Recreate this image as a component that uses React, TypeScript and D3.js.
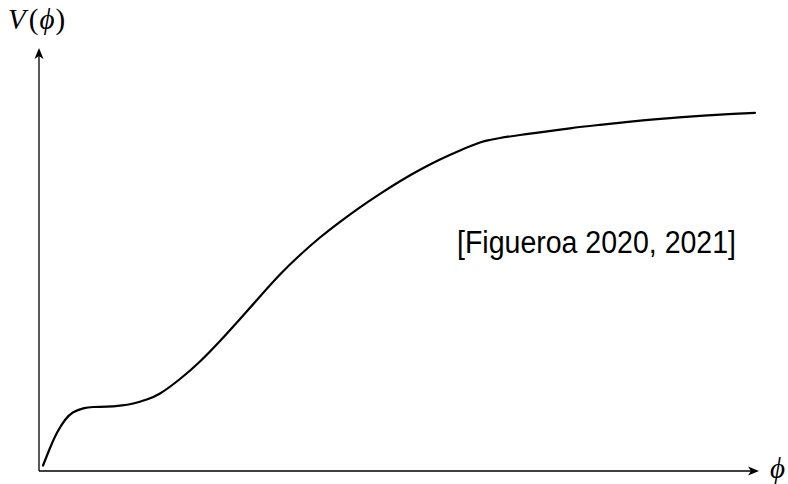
import React from "react";
import * as d3 from "d3";

// Potential V(phi) sampled along the field axis (arbitrary units)
const phiValues = [
  0.056, 0.153, 0.246, 0.361, 0.476, 0.615, 0.754, 0.94, 1.125, 1.31,
  1.496, 1.681, 1.958, 2.236, 2.514, 2.792, 3.069, 3.347, 3.625, 3.903,
  4.181, 4.458, 4.736, 5.014, 5.292, 5.569, 5.847, 6.125, 6.264, 6.403,
  6.681, 6.958, 7.375, 7.792, 8.25, 8.722, 9.181, 9.639, 9.944,
];
const potentialValues = [
  0.13, 0.544, 0.891, 1.206, 1.388, 1.482, 1.513, 1.52, 1.544, 1.596,
  1.69, 1.832, 2.175, 2.589, 3.073, 3.593, 4.125, 4.645, 5.106, 5.52,
  5.891, 6.234, 6.553, 6.851, 7.121, 7.362, 7.577, 7.764, 7.825, 7.872,
  7.943, 8.007, 8.102, 8.184, 8.267, 8.338, 8.397, 8.444, 8.468,
];

const yAxisLabel = ["V", "(", "ϕ", ")"];
const xAxisLabel = "ϕ";
const annotation = "[Figueroa 2020, 2021]";

const WIDTH = 788;
const HEIGHT = 484;

export default function App() {
  const x = d3.scaleLinear().domain([0, 10]).range([39, 759]);
  const y = d3.scaleLinear().domain([0, 10]).range([471, 48]);

  const points: [number, number][] = phiValues.map((p, i) => [p, potentialValues[i]]);
  const line = d3
    .line<[number, number]>()
    .x((d) => x(d[0]))
    .y((d) => y(d[1]))
    .curve(d3.curveNatural);

  const x0 = x(0);
  const y0 = y(0);
  const xEnd = x(10);
  const yEnd = y(10);

  // stealth-style arrow tips
  const upArrow = `M${x0},${yEnd} L${x0 - 4.5},${yEnd + 11} L${x0},${yEnd + 8} L${x0 + 4.5},${yEnd + 11} Z`;
  const rightArrow = `M${xEnd},${y0} L${xEnd - 11},${y0 - 4.5} L${xEnd - 8},${y0} L${xEnd - 11},${y0 + 4.5} Z`;

  const serif = "'Liberation Serif', 'DejaVu Serif', serif";

  return (
    <svg
      width={WIDTH}
      height={HEIGHT}
      style={{ position: "absolute", left: 0, top: 0, background: "#fff" }}
    >
      <line x1={x0} y1={y0} x2={x0} y2={yEnd + 6} stroke="#000" strokeWidth={1.3} />
      <line x1={x0} y1={y0} x2={xEnd - 6} y2={y0} stroke="#000" strokeWidth={1.3} />
      <path d={upArrow} fill="#000" />
      <path d={rightArrow} fill="#000" />

      <path
        d={line(points) ?? ""}
        fill="none"
        stroke="#000"
        strokeWidth={2.2}
        strokeLinejoin="round"
        strokeLinecap="round"
      />

      <text x={8} y={29} fontSize={29} fontFamily={serif}>
        <tspan fontStyle="italic">{yAxisLabel[0]}</tspan>
        <tspan dx={3}>{yAxisLabel[1]}</tspan>
        <tspan fontStyle="italic" dx={1}>{yAxisLabel[2]}</tspan>
        <tspan dx={1}>{yAxisLabel[3]}</tspan>
      </text>
      <text x={770} y={478} fontSize={29} fontStyle="italic" fontFamily={serif}>
        {xAxisLabel}
      </text>

      <text
        x={457}
        y={253}
        fontSize={31}
        textLength={279}
        lengthAdjust="spacingAndGlyphs"
        fontFamily="'Liberation Sans', Arial, sans-serif"
        fill="#000"
      >
        {annotation}
      </text>
    </svg>
  );
}
